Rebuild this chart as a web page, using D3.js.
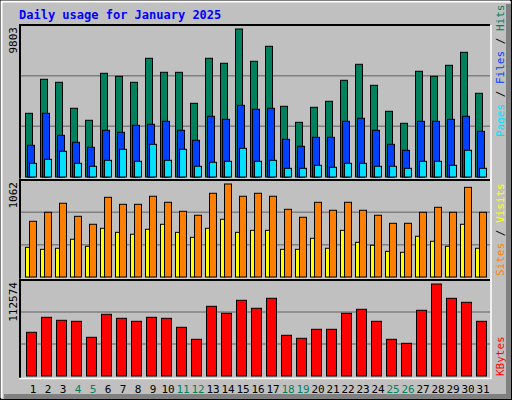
<!DOCTYPE html><html><head><meta charset="utf-8">
<script src="https://cdn.jsdelivr.net/npm/d3@7"></script>
<style>body{margin:0;background:#fff}text{font-family:"DejaVu Sans Mono",monospace}</style></head><body>
<svg id="c" width="512" height="400"></svg>
<script>
const days=d3.range(1,32);
const weekend=[4,5,11,12,18,19,25,26];
const hits=[4219,6472,6273,4551,3756,6869,6670,6273,7863,6935,6935,4882,7863,7531,9803,7664,8658,4683,3623,4617,5014,6405,7465,6074,4352,3557,7002,6670,7399,8260,5544];
const files=[2100,4219,2762,2299,1967,3093,2961,3425,3491,3690,3093,2431,4021,3822,4749,4484,4551,2497,2034,2630,2630,3690,3888,3093,2166,1769,3690,3690,3822,4021,3027];
const pages=[907,1172,1702,907,709,1106,1835,1040,2166,1106,1835,709,974,1040,1901,1040,1106,576,576,775,643,907,907,709,709,576,1040,1040,775,1769,576];
const visits=[636,739,842,693,602,910,830,830,922,853,750,705,956,1062,922,956,922,773,682,853,762,853,762,705,613,613,739,796,739,1024,739];
const sites=[339,316,328,431,351,556,510,488,545,602,510,453,556,659,510,533,533,316,316,442,328,533,396,362,293,282,465,408,351,602,328];
const kbytes=[53471,71825,68155,66931,47353,75496,70602,66931,71825,70602,59589,44906,85285,76720,92627,82838,95074,49800,46130,57142,57142,76720,81614,66931,44906,40012,80391,112574,95074,90180,66931];
const yMax=["9803","1062","112574"];

const svg=d3.select("#c");
svg.append("rect").attr("width",512).attr("height",400).attr("fill","#C0C0C0");
svg.append("rect").attr("x",506).attr("y",4).attr("width",5).attr("height",395).attr("fill","#808080");
svg.append("rect").attr("x",4).attr("y",394).attr("width",507).attr("height",5).attr("fill","#808080");
svg.append("rect").attr("x",0.5).attr("y",0.5).attr("width",511).attr("height",399).attr("fill","none").attr("stroke","#000");
svg.append("path").attr("d","M1.5,398V1.5H510").attr("stroke","#fff").attr("fill","none").attr("stroke-width",2);
svg.append("text").attr("x",19).attr("y",19).attr("fill","#0000FF").attr("font-weight","bold").attr("font-size",12).text("Daily usage for January 2025");

const x=d3.scaleBand().domain(days).range([20,485]).paddingInner(0).paddingOuter(0);
const X0=20,X1=490;
function panel(top,base,maxTop,maxVal,label,series){
  svg.append("rect").attr("x",X0).attr("y",top).attr("width",X1-X0).attr("height",base-top+2).attr("fill","#C0C0C0");
  const y=d3.scaleLinear().domain([0,maxVal]).range([base,maxTop]);
  const sp=(base-top)/3;
  [1,2].forEach(i=>svg.append("line").attr("x1",X0).attr("x2",X1).attr("y1",top+sp*i).attr("y2",top+sp*i).attr("stroke","#808080").attr("stroke-width",1.5));
  series.forEach(s=>{
    svg.append("g").selectAll("rect").data(s.vals).join("rect")
      .attr("x",(d,i)=>x(days[i])+5+s.dx).attr("width",s.w)
      .attr("y",d=>y(d)).attr("height",d=>base-y(d))
      .attr("fill",s.c).attr("stroke","#000").attr("stroke-width",1);
  });
  svg.append("path").attr("d",`M${X0},${base+2}V${top}H${X1}`).attr("stroke","#000").attr("fill","none").attr("stroke-width",2);
  svg.append("path").attr("d",`M${X0-1},${base+2.5}H${X1+1}V${top}`).attr("stroke","#fff").attr("fill","none").attr("stroke-width",1.5);
  svg.append("text").attr("transform",`translate(17,${top+2}) rotate(-90)`).attr("text-anchor","end").attr("font-size",11).attr("fill","#000").text(label);
}
panel(25,177,29,9803,yMax[0],[{vals:hits,c:"#00805C",dx:0.5,w:7},{vals:files,c:"#0040FF",dx:2.5,w:7},{vals:pages,c:"#00E0FF",dx:4.5,w:7}]);
panel(180,277,184,1062,yMax[1],[{vals:sites,c:"#FFFF00",dx:0.5,w:4},{vals:visits,c:"#FF8000",dx:4.5,w:7}]);
panel(280,376,284,112574,yMax[2],[{vals:kbytes,c:"#FF0000",dx:1.5,w:10}]);

svg.append("g").selectAll("text").data(days).join("text")
  .attr("x",d=>x(d)+13).attr("y",393).attr("text-anchor","middle").attr("font-size",11)
  .attr("fill",d=>weekend.includes(d)?"#00805C":"#000").text(d=>d);

function rlabel(yStart,parts){
  const t=svg.append("text").attr("transform",`translate(504,${yStart}) rotate(-90)`).attr("font-size",11);
  parts.forEach(p=>t.append("tspan").attr("fill",p[1]).text(p[0]));
}
rlabel(137,[["Pages","#00E0FF"],[" / ","#000"],["Files","#0040FF"],[" / ","#000"],["Hits","#00805C"]]);
rlabel(276,[["Sites","#FF8000"],[" / ","#000"],["Visits","#FFFF00"]]);
rlabel(376,[["KBytes","#FF0000"]]);
</script></body></html>
